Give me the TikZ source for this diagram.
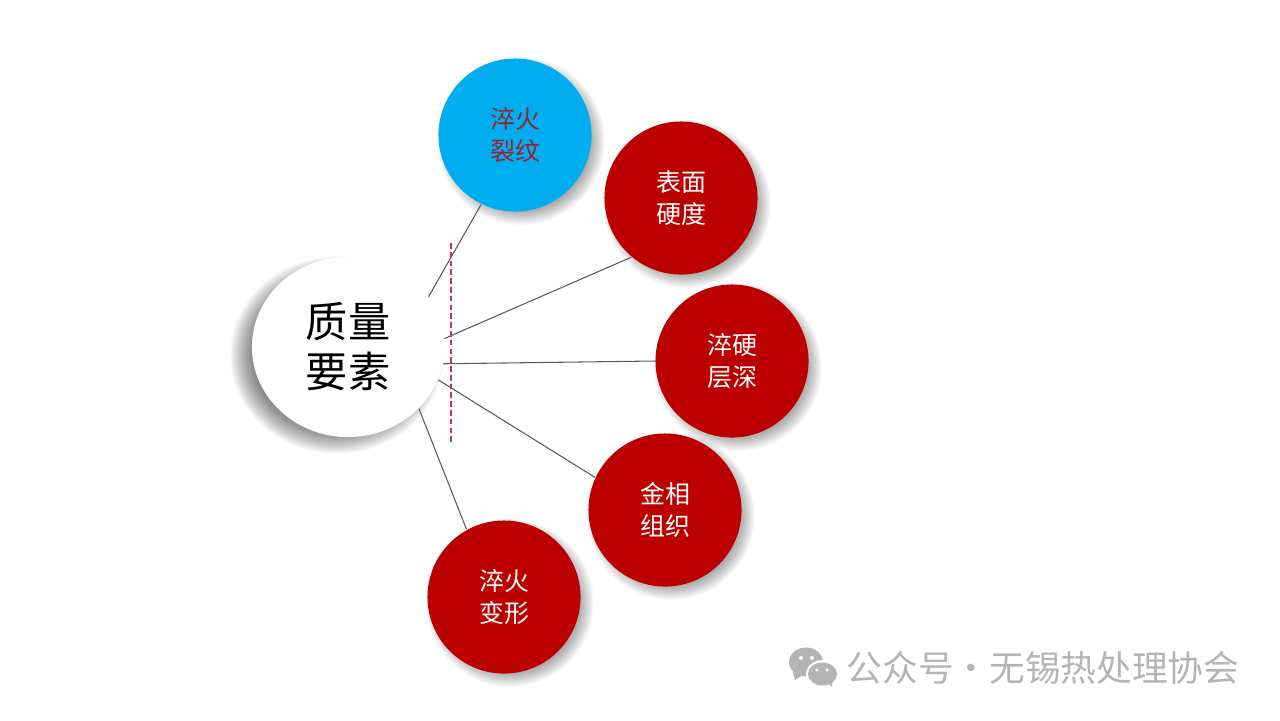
\documentclass[tikz,border=0pt]{standalone}
\usepackage{fontspec}
\setmainfont{Noto Sans CJK SC}
\usetikzlibrary{shapes.geometric}
\definecolor{cRed}{HTML}{BC0000}
\definecolor{cBlue}{HTML}{00AEEF}
\definecolor{cLink}{HTML}{5E5858}
\definecolor{cDash}{HTML}{C8305E}
\definecolor{cMark}{HTML}{B4B4B4}
% centre x, centre y, radius x, radius y, blur, opacity of one layer
\newcommand{\softshadow}[6]{%
  \pgfmathtruncatemacro\blurlow{-#5}
  \foreach \s in {\blurlow,...,#5}
    \fill[black,opacity=#6] (#1,#2) ellipse ({#3+\s} and {#4+\s});}

\begin{document}
\begin{tikzpicture}[x=0.01cm,y=-0.01cm,
  topic/.style={circle,minimum size=1.53cm,inner sep=0pt,align=center,
    font=\fontsize{7.1}{8.9}\selectfont},
  redtopic/.style={topic,fill=cRed,text=white},
  link/.style={draw=cLink,line width=0.3pt}]
\useasboundingbox (0,0) rectangle (1280,720);
\fill[white] (0,0) rectangle (1280,720);

%============================ SHADOWS ============================
\softshadow{337}{355}{92}{84}{15}{0.025}
\softshadow{521}{141}{76}{76}{8}{0.025}
\softshadow{687}{204}{76}{76}{8}{0.025}
\softshadow{738}{367}{76}{76}{8}{0.025}
\softshadow{671}{516}{76}{76}{8}{0.025}
\softshadow{510}{603}{76}{76}{8}{0.025}

%============================ NODES ============================
\node[ellipse,fill=white,minimum width=1.92cm,minimum height=1.80cm,inner sep=0pt,
  align=center,font=\fontsize{12}{14.2}\selectfont] (hub) at (348,347) {质量\\要素};
\node[topic,fill=cBlue,text=cRed!80!cBlue] (crack) at (515,135) {淬火\\裂纹};
\node[redtopic] (hard) at (681,198) {表面\\硬度};
\node[redtopic] (depth) at (732,361) {淬硬\\层深};
\node[redtopic] (micro) at (665,510) {金相\\组织};
\node[redtopic] (distort) at (504,597) {淬火\\变形};

%============================ CONNECTORS ============================
\draw[link] (hub.32) -- (crack.244);
\draw[link] (hub.5) -- (hard.230);
\draw[link] (hub.-10) -- (depth.180);
\draw[link] (hub.-20) -- (micro.155);
\draw[link] (hub.-41) -- (distort.119);

% dashed marker
\coordinate (dashtop) at (451,243);
\coordinate (dashbot) at (451,443);
\draw[cDash,line width=0.34pt,dash pattern=on 1.6pt off 0.9pt] (dashtop) -- (dashbot);

%============================ WATERMARK ============================
\fill[cMark] (806,662) ellipse (17 and 14.5);
\fill[cMark] (793,672) -- (795,680) -- (803,675) -- cycle;
\fill[white] (822.5,674) ellipse (16.5 and 14);
\fill[cMark] (822.5,674) ellipse (14.5 and 11.5);
\fill[cMark] (827,682) -- (832,687) -- (832,680) -- cycle;
\foreach \ex/\ey in {801/658,812/658}
  \fill[white] (\ex,\ey) circle (2);
\foreach \ex/\ey in {817/670,827/670}
  \fill[white] (\ex,\ey) circle (1.7);
\node[anchor=west,inner sep=0pt,text=cMark,font=\fontsize{10.15}{12}\selectfont] (mark)
  at (846,668) {公众号·无锡热处理协会};

\end{tikzpicture}
\end{document}
